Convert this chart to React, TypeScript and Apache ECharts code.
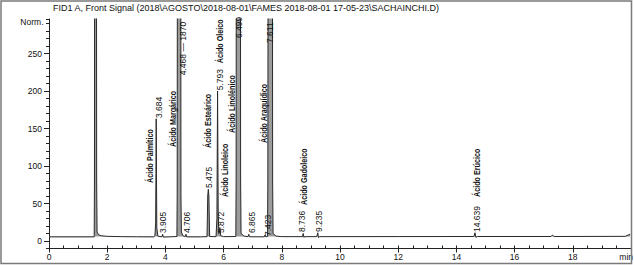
import React, { useEffect, useRef } from "react";
import * as echarts from "echarts";

// Chromatogram trace: [retention time (min), signal (Norm.)]
const signal: [number, number][] = [
  [0, 5.5], [1.2, 5.5], [1.553, 5.5], [1.562, 80], [1.572, 600], [1.6, 3000],
  [1.628, 600], [1.638, 80], [1.652, 12], [1.7, 8.5], [1.8, 7], [2.0, 6.2],
  [2.5, 5.8], [3.0, 5.6], [3.6, 5.5], [3.64, 7], [3.665, 24], [3.675, 90],
  [3.684, 163], [3.693, 90], [3.705, 18], [3.74, 6.5], [3.88, 5.5], [3.905, 9],
  [3.93, 5.2], [4.395, 6], [4.405, 60], [4.415, 600], [4.468, 3000], [4.525, 600],
  [4.535, 60], [4.55, 12], [4.6, 7], [4.68, 5.8], [4.706, 9], [4.73, 5.5],
  [5.2, 5.5], [5.43, 5.8], [5.455, 60], [5.475, 69], [5.495, 60], [5.52, 6],
  [5.74, 5.8], [5.77, 30], [5.793, 200], [5.816, 30], [5.84, 10], [5.872, 18],
  [5.9, 7], [6.0, 5.8], [6.42, 6], [6.43, 80], [6.44, 600], [6.499, 3000],
  [6.575, 600], [6.585, 80], [6.6, 10], [6.7, 6.5], [6.84, 5.8], [6.865, 9],
  [6.89, 5.6], [7.4, 5.6], [7.423, 8], [7.45, 5.6], [7.51, 6], [7.52, 80],
  [7.535, 600], [7.611, 3000], [7.675, 600], [7.685, 80], [7.7, 10], [7.8, 6.5],
  [8.0, 5.8], [8.71, 5.8], [8.736, 10], [8.76, 4.8], [8.79, 5.8], [9.2, 5.8],
  [9.235, 11], [9.26, 4.5], [9.3, 5.8], [12.0, 5.9], [14.6, 6], [14.639, 11],
  [14.67, 4.8], [14.72, 6], [17.25, 6], [17.3, 8], [17.36, 6], [19.8, 6.2],
  [19.97, 9],
];

const yTickLabels = [0, 50, 100, 150, 200, 250];
const xTickLabels = [0, 2, 4, 6, 8, 10, 12, 14, 16, 18];

// Retention-time annotations: text and anchor [time, signal] of the text start
const rtLabelText = ["3.684", "3.905", "4.468 \u2014 1870", "4.706", "5.475", "5.793", "5.872", "6.499", "6.865", "7.423", "7.611", "8.736", "9.235", "14.639"];
const rtLabelTime = [3.791, 3.911, 4.597, 4.751, 5.506, 5.866, 5.9, 6.518, 6.981, 7.513, 7.599, 8.696, 9.28, 14.7];
const rtLabelValue = [164, 10.7, 221, 10.7, 70.7, 201, 10.7, 270.7, 10.7, 6.7, 264, 12, 12, 12];

// Compound-name annotations
const nameText = ["Ácido Palmítico", "Ácido Margárico", "Ácido Esteárico", "Ácido Oleico", "Ácido Linoleico", "Ácido Linolénico", "Ácido Araquídico", "Ácido Gadoleico", "Ácido Erúcico"];
const nameTime = [3.482, 4.271, 5.472, 5.883, 6.072, 6.295, 7.393, 8.782, 14.717];
const nameValue = [77.3, 125.3, 124, 237, 58.7, 144, 130.7, 48, 58.7];

const TITLE = "FID1 A, Front Signal (2018\\AGOSTO\\2018-08-01\\FAMES 2018-08-01 17-05-23\\SACHAINCHI.D)";

export default function App() {
  const ref = useRef<HTMLDivElement>(null);
  useEffect(() => {
    const chart = echarts.init(ref.current!, null, { renderer: "svg" });
    const font = "'Liberation Sans', Arial, sans-serif";
    const ink = "#111111";
    chart.setOption({
      animation: false,
      backgroundColor: "#ffffff",
      grid: { left: 49, right: 2, top: 19, bottom: 16.5, containLabel: false },
      xAxis: [
        {
          type: "value", min: 0, max: 20, interval: 0.5, position: "bottom",
          axisLine: { show: true, onZero: false, lineStyle: { color: "#222", width: 1 } },
          axisTick: { show: true, inside: true, length: 3, lineStyle: { color: "#222" } },
          axisLabel: { show: false }, splitLine: { show: false },
        },
        {
          type: "value", min: 0, max: 20, interval: 2, position: "bottom", offset: 0,
          axisLine: { show: false, onZero: false },
          axisTick: { show: true, length: 4, lineStyle: { color: "#222" } },
          axisLabel: {
            show: true, margin: 4, fontSize: 8.5, fontFamily: font, color: ink,
            formatter: (v: number) => (xTickLabels.indexOf(v) >= 0 ? String(v) : ""),
          },
          splitLine: { show: false },
        },
      ],
      yAxis: [
        {
          type: "value", min: -10, max: 296, interval: 10, position: "left",
          axisLine: { show: true, onZero: false, lineStyle: { color: "#222", width: 1 } },
          axisTick: { show: true, length: 3, lineStyle: { color: "#222" } },
          axisLabel: {
            show: true, margin: 7, fontSize: 8.5, fontFamily: font, color: ink,
            formatter: (v: number) => (yTickLabels.indexOf(v) >= 0 ? String(v) : ""),
          },
          splitLine: { show: false },
        },
        {
          type: "value", min: -10, max: 296, position: "left", offset: 0,
          axisLine: { show: false, onZero: false },
          axisTick: { show: true, length: 5, customValues: yTickLabels, lineStyle: { color: "#222" } },
          axisLabel: { show: false }, splitLine: { show: false },
        },
      ],
      series: [
        {
          type: "line", xAxisIndex: 0, yAxisIndex: 0, data: signal,
          showSymbol: false, symbol: "none", silent: true, clip: true,
          lineStyle: { color: "#2a2a2a", width: 1 },
          areaStyle: { color: "#9c9c9c", opacity: 1, origin: 6 },
        },
      ],
    });

    const toPx = (t: number, v: number) =>
      chart.convertToPixel({ xAxisIndex: 0, yAxisIndex: 0 }, [t, v]) as number[];

    const graphics: any[] = [];
    graphics.push({
      type: "rect", shape: { x: 1, y: 1, width: 630.5, height: 262.5 },
      style: { fill: "none", stroke: "#7a7a7a", lineWidth: 1.5 }, z: 10,
    });
    graphics.push({
      type: "text", x: 53, y: 8,
      style: { text: TITLE, fontSize: 9, fontFamily: font, fill: ink, align: "left", verticalAlign: "middle", textAlign: "left", textVerticalAlign: "middle" },
    });
    graphics.push({
      type: "text", x: 43.5, y: 21.5,
      style: { text: "Norm.", fontSize: 8.5, fontFamily: font, fill: ink, align: "right", verticalAlign: "middle", textAlign: "right", textVerticalAlign: "middle" },
    });
    graphics.push({
      type: "text", x: 633, y: 257,
      style: { text: "min", fontSize: 8.5, fontFamily: font, fill: ink, align: "right", verticalAlign: "middle", textAlign: "right", textVerticalAlign: "middle" },
    });
    rtLabelText.forEach((text, i) => {
      const [x, y] = toPx(rtLabelTime[i], rtLabelValue[i]);
      graphics.push({
        type: "text", x, y, rotation: Math.PI / 2,
        style: { text, fontSize: 8.5, fontFamily: font, fill: ink, align: "left", verticalAlign: "middle", textAlign: "left", textVerticalAlign: "middle" },
        z: 5,
      });
    });
    nameText.forEach((text, i) => {
      const [x, y] = toPx(nameTime[i], nameValue[i]);
      graphics.push({
        type: "text", x, y, rotation: Math.PI / 2, scaleX: 0.8,
        style: { text, fontSize: 9, fontWeight: "bold", fontFamily: font, fill: ink, align: "left", verticalAlign: "middle", textAlign: "left", textVerticalAlign: "middle" },
        z: 5,
      });
    });
    chart.setOption({ graphic: graphics });

    return () => chart.dispose();
  }, []);
  return (
    <div
      ref={ref}
      style={{ position: "fixed", left: 0, top: 0, width: 634, height: 265, background: "#fff" }}
    />
  );
}
